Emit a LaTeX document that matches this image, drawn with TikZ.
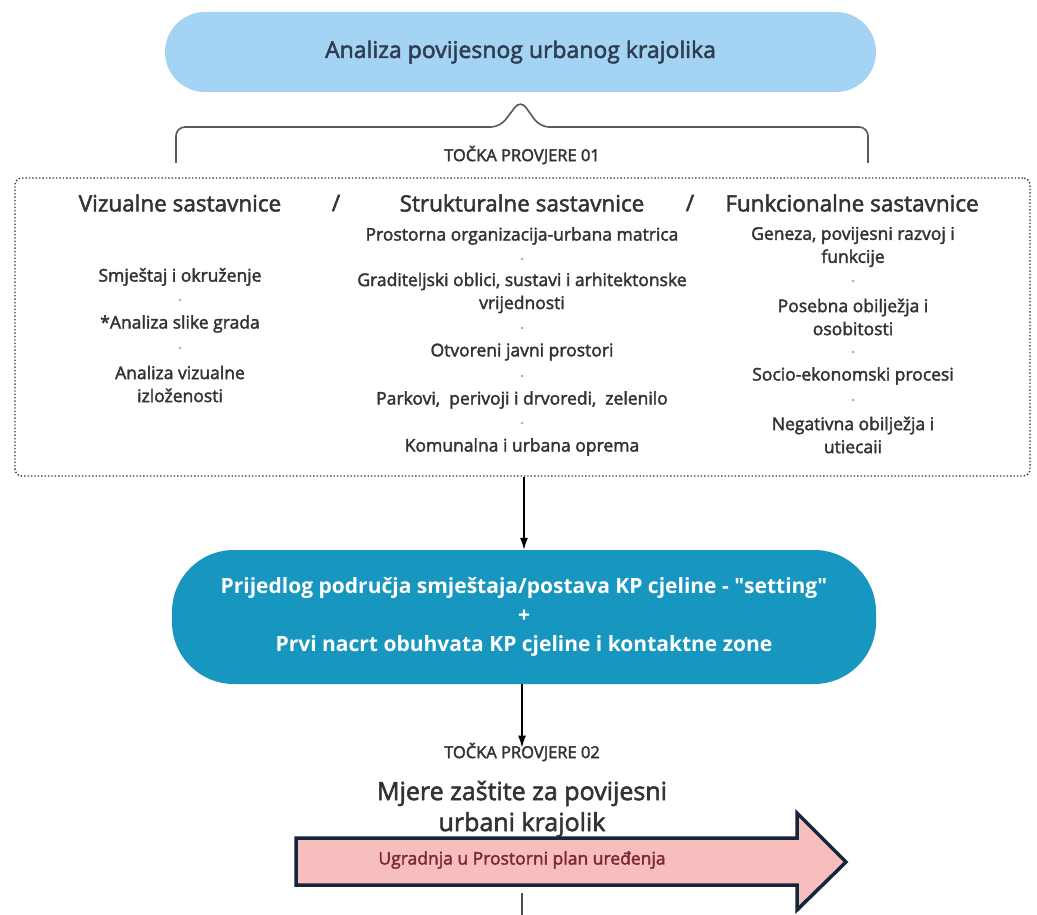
\documentclass[tikz,border=0pt]{standalone}
\usepackage{fontspec}
\setmainfont{Open Sans}[FakeBold=2.2]
\newfontfamily\boldfont{Open Sans Bold}
\usetikzlibrary{arrows.meta}
\definecolor{lightblue}{HTML}{A5D3F4}
\definecolor{navytext}{HTML}{2E3D52}
\definecolor{tealbox}{HTML}{1797C0}
\definecolor{itemgray}{HTML}{333333}
\definecolor{pinkfill}{HTML}{F8BDBD}
\definecolor{arrowedge}{HTML}{13263A}
\definecolor{redtext}{HTML}{7A2A30}
\tikzset{
  head/.style={font=\fontsize{22.5}{26}\selectfont, text=itemgray, inner sep=0},
  item/.style={font=\fontsize{17.5}{23}\selectfont, text=itemgray, align=center, inner sep=0},
  dotsep/.style={circle, fill=gray!60, inner sep=0, minimum size=3pt},
  check/.style={font=\fontsize{16.5}{18}\selectfont, text=itemgray, inner sep=0},
  conn/.style={-{Latex[length=12pt,width=8pt]}, line width=1.3pt, black}
}
\begin{document}
\begin{tikzpicture}[x=1pt,y=-1pt]
\useasboundingbox (0,0) rectangle (1037,915);
\fill[white] (0,0) rectangle (1037,915);

% top pill
\node[fill=lightblue, rounded corners=40pt, minimum width=711pt, minimum height=80pt,
      font=\fontsize{23}{26}\selectfont, text=navytext] (top) at (520.5,52) {Analiza povijesnog urbanog krajolika};

% brace
\draw[gray!70!black, line width=1.6pt, rounded corners=9pt]
  (176,163) |- (500,127) -- (top.south |- 0,100) -- (540,127) -| (868,163);
\node[check] (tp1) at (522,155) {TOČKA PROVJERE 01};

% dotted panel
\node[draw=gray!40!black, dotted, line width=1.4pt, rounded corners=7pt,
      minimum width=1015pt, minimum height=298pt] (panel) at (522.5,327) {};

% headings
\node[head] (hv) at (180,203) {Vizualne sastavnice};
\node[head] (s1) at (336,203) {/};
\node[head] (hs) at (522,203) {Strukturalne sastavnice};
\node[head] (s2) at (690,203) {/};
\node[head] (hf) at (852,203) {Funkcionalne sastavnice};

% left column
\node[item] (v1) at (180,277) {Smještaj i okruženje};
\node[dotsep] (vd1) at (180,300) {};
\node[item] (v2) at (180,324) {*Analiza slike grada};
\node[dotsep] (vd2) at (180,348) {};
\node[item] (v3) at (180,384) {Analiza vizualne\\izloženosti};

% middle column
\node[item] (m1) at (522,236) {Prostorna organizacija-urbana matrica};
\node[dotsep] (md1) at (522,259) {};
\node[item] (m2) at (522,293) {Graditeljski oblici, sustavi i arhitektonske\\vrijednosti};
\node[dotsep] (md2) at (522,328) {};
\node[item] (m3) at (522,352) {Otvoreni javni prostori};
\node[dotsep] (md3) at (522,376) {};
\node[item] (m4) at (522,400) {Parkovi,\ \ perivoji i drvoredi,\ \ zelenilo};
\node[dotsep] (md4) at (522,423) {};
\node[item] (m5) at (522,447) {Komunalna i urbana oprema};

% right column
\node[item] (f1) at (853,247) {Geneza, povijesni razvoj i\\funkcije};
\node[dotsep] (fd1) at (853,281) {};
\node[item] (f2) at (853,317) {Posebna obilježja i\\osobitosti};
\node[dotsep] (fd2) at (853,352) {};
\node[item] (f3) at (853,376) {Socio-ekonomski procesi};
\node[dotsep] (fd3) at (853,400) {};
\node[item] (f4) at (853,435) {Negativna obilježja i\\utiecaii};

% teal pill
\node[fill=tealbox, rounded corners=62pt, minimum width=704pt, minimum height=134pt,
      font=\boldfont\fontsize{21}{29}\selectfont, text=white, align=center] (mid) at (524,617)
  {Prijedlog područja smještaja/postava KP cjeline - \textquotedbl setting\textquotedbl\\+\\Prvi nacrt obuhvata KP cjeline i kontaktne zone};

\draw[conn] (panel.south -| mid.north) -- (mid.north);

\node[check] (tp2) at (522,752) {TOČKA PROVJERE 02};
\draw[conn] (mid.south -| tp2.north) -- ([yshift=-5pt]tp2.north);

\node[font=\fontsize{25}{31}\selectfont, text=itemgray, align=center, inner sep=0] (mj) at (522,809)
  {Mjere zaštite za povijesni\\urbani krajolik};

% big arrow
\draw[fill=pinkfill, draw=arrowedge, line width=3.5pt, line join=miter]
  (296,838) -- (797,838) -- (797,813) -- (846,862) -- (797,910) -- (797,885) -- (296,885) -- cycle;
\node[font=\fontsize{17.5}{20}\selectfont, text=redtext, inner sep=0] (ugr) at (522,860) {Ugradnja u Prostorni plan uređenja};

\coordinate (tail) at (522,915);
\draw[gray!60!black, line width=1.3pt] (ugr.south |- 0,893) -- (tail);
\end{tikzpicture}
\end{document}
